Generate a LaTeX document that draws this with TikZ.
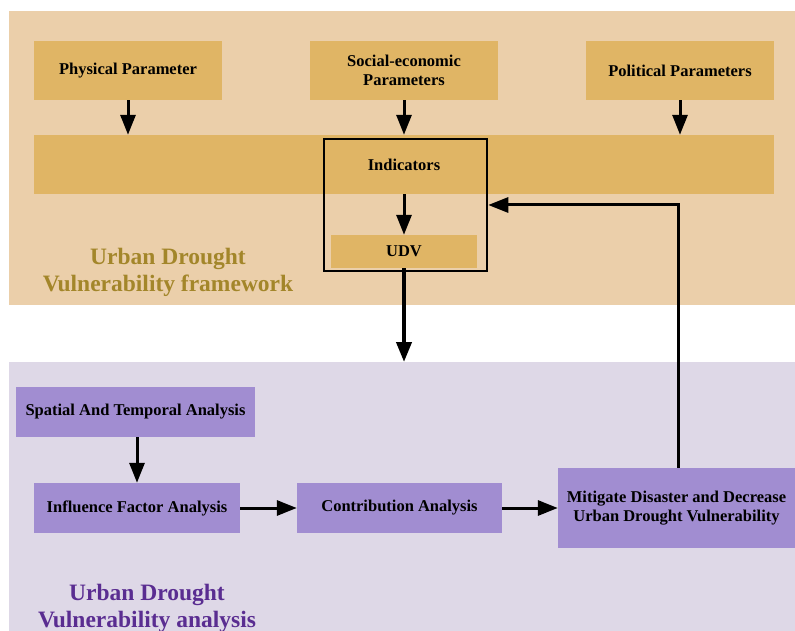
\documentclass[tikz,border=0pt]{standalone}
\usepackage{fontspec}
\setmainfont{Liberation Serif}
\usepackage{tikz}
\usetikzlibrary{arrows.meta,positioning,backgrounds}
\definecolor{tanbg}{HTML}{EBCFAA}
\definecolor{tanbox}{HTML}{E0B565}
\definecolor{lilacbg}{HTML}{DED8E7}
\definecolor{lilacbox}{HTML}{A18DD1}
\definecolor{goldtext}{HTML}{A3862A}
\definecolor{purptext}{HTML}{5A2D91}

\begin{document}
\begin{tikzpicture}[x=1pt,y=-1pt,>={Triangle[length=20pt,width=15pt]},
    font=\fontsize{16.5}{19}\selectfont\bfseries]
    \tikzstyle{param}=[rectangle,fill=tanbox,inner sep=0pt,align=center,
    minimum width=188pt,minimum height=59pt]
    \tikzstyle{analysis}=[rectangle,fill=lilacbox,inner sep=0pt,align=center,
    minimum height=50pt]
    \tikzstyle{flow}=[->,line width=3pt]
    \tikzstyle{title}=[align=center,font=\fontsize{23.5}{27}\selectfont\bfseries]

    \useasboundingbox [fill=white] (0,0) rectangle (795,631);
    % two background panels
    \fill [tanbg] (9,11) rectangle (795,305);
    \fill [lilacbg] (9,362) rectangle (795,631);
    \coordinate (lowtop) at (404,362);

    \node [param] (phys) at (128,70.5) {Physical Parameter};
    \node [param] (soc) at (404,70.5) {Social-economic\\Parameters};
    \node [param] (pol) at (680,70.5) {Political Parameters};
    \node [param,minimum width=740pt] (band) at (404,164.5) {Indicators};
    \node [param,minimum width=146pt,minimum height=33pt] (udv) at (404,251.5) {UDV};
    \node [draw,line width=2.5pt,minimum width=163pt,minimum height=132pt] (frame) at (405.5,205) {};
    \node [title,text=goldtext] (frametitle) at (168,272) {Urban Drought\\Vulnerability framework};

    \node [analysis,minimum width=239pt] (spat) at (135.5,412) {Spatial And Temporal Analysis};
    \node [analysis,minimum width=206pt] (infl) at (137,508) {Influence Factor Analysis};
    \node [analysis,minimum width=205pt] (contr) at (399.5,508) {Contribution Analysis};
    \node [analysis,minimum width=237pt,minimum height=80pt] (miti) at (676.5,508)
      {Mitigate Disaster and Decrease\\Urban Drought Vulnerability};
    \node [title,text=purptext] (anatitle) at (147,608) {Urban Drought\\Vulnerability analysis};

    \path (phys.south) edge [flow] (phys.south |- band.north);
    \path (soc.south) edge [flow] (soc.south |- band.north);
    \path (pol.south) edge [flow] (pol.south |- band.north);
    \path (band.south) edge [flow] (udv.north);
    \path (udv.south) edge [flow,line width=4pt] (lowtop);
    \path (spat.south -| infl.north) edge [flow] (infl.north);
    \path (infl.east) edge [flow] (contr.west);
    \path (contr.east) edge [flow] (miti.west);
    \draw [flow] ([xshift=1.5pt]miti.north) |- (frame.east);

  \end{tikzpicture}
\end{document}
